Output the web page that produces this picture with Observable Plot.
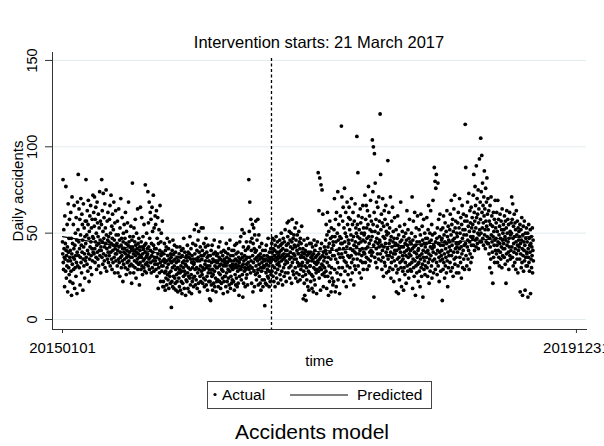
<!DOCTYPE html>
<html><head><meta charset="utf-8">
<script src="https://cdn.jsdelivr.net/npm/d3@7"></script>
<script src="https://cdn.jsdelivr.net/npm/@observablehq/plot@0.6"></script>
<style>
body{margin:0;background:#fff;font-family:Arial,"Liberation Sans",sans-serif;color:#000;}
#wrap{position:relative;width:604px;height:446px;overflow:hidden;background:#fff;}
#title{position:absolute;left:52px;width:534px;top:33px;font-size:16.5px;line-height:19px;text-align:center;}
#chart{position:absolute;left:0;top:0;}
#legend{position:absolute;left:207px;top:381px;}
#caption{position:absolute;left:182px;width:260px;top:419px;font-size:21px;line-height:25px;text-align:center;}
</style>
</head><body>
<div id="wrap">
  <div id="chart"></div>
  <div id="title"></div>
  <div id="legend"></div>
  <div id="caption"></div>
</div>
<script>
// ---- data ----
const titleText = "Intervention starts: 21 March 2017";
const captionText = "Accidents model";
const yLabel = "Daily accidents";
const xLabel = "time";
const legendLabels = ["Actual", "Predicted"];

// daily accident counts, 2015-01-01 .. 2019-12-31 (one row ~ 30 days)
const dailyAccidents = [
45,38,81,33,29,52,41,36,19,60,35,44,28,77,40,24,37,31,55,42,16,34,67,39,30,47,26,58,36,22,
40,34,62,28,47,14,38,71,32,44,21,36,55,29,41,66,35,18,43,30,50,37,25,59,33,46,15,39,68,31,
52,84,37,45,64,30,41,58,20,36,49,70,33,43,27,61,39,55,46,17,35,67,42,31,53,38,24,48,57,34,
44,81,36,57,49,32,63,40,28,55,69,38,47,22,51,35,60,42,30,66,45,37,53,26,41,58,34,48,72,39,
47,62,38,54,71,41,33,58,45,65,36,50,29,43,68,39,56,35,48,61,31,44,53,40,74,37,46,57,27,42,
40,55,81,36,63,45,32,51,73,38,47,59,34,42,67,30,53,44,37,75,49,28,41,57,35,46,62,39,33,48,
45,37,58,42,66,31,50,39,72,44,35,54,29,47,61,40,33,52,43,68,36,46,27,56,41,38,63,34,49,43,
38,44,31,57,40,27,49,35,64,42,33,46,25,53,39,36,70,43,30,47,37,59,34,41,22,45,50,32,39,55,
41,35,47,30,62,38,44,26,51,36,40,33,56,29,43,37,68,34,45,39,31,48,27,42,36,54,32,40,21,46,
36,79,42,31,48,38,27,53,40,34,45,30,58,37,43,24,39,50,33,41,35,64,29,44,38,32,47,36,20,42,
40,33,65,37,29,45,36,59,31,42,26,38,48,34,41,30,55,35,43,28,39,78,32,44,36,27,50,37,33,41,
38,74,31,56,42,35,68,29,47,36,62,40,33,58,27,44,37,65,30,51,39,34,72,43,28,53,36,41,32,60,
34,55,29,41,63,36,25,47,32,59,38,18,44,30,52,35,27,40,66,33,22,45,37,50,31,28,39,57,34,19,
31,22,38,19,35,44,27,33,17,40,28,24,42,34,20,30,47,26,37,23,32,41,18,35,27,45,25,34,21,38,
28,36,7,33,22,40,30,19,46,34,25,38,18,31,43,24,35,21,39,29,17,33,26,42,22,36,30,16,34,27,
34,24,38,19,29,42,27,17,36,31,22,40,28,15,37,33,21,41,30,25,47,34,18,28,39,26,32,14,36,23,
31,37,22,34,43,27,18,39,30,25,36,16,38,24,48,29,20,35,41,26,15,33,37,22,30,44,24,35,19,32,
33,52,25,38,29,20,43,35,23,55,30,40,18,34,27,46,36,21,51,29,39,16,34,25,42,31,22,37,53,28,
35,26,40,21,30,53,37,24,44,29,19,38,32,23,42,34,47,20,30,39,25,36,17,31,43,27,37,22,34,29,
12,31,22,37,11,27,40,20,33,25,43,29,17,35,26,38,21,34,46,28,19,31,39,24,34,16,30,37,22,33,
30,38,23,34,19,42,27,36,31,22,45,26,35,18,32,39,21,29,53,34,24,37,28,15,31,40,22,35,25,33,
34,25,39,19,31,44,27,36,22,33,16,38,29,24,41,34,20,35,28,46,31,18,37,25,34,21,30,40,23,32,
29,37,31,22,40,34,17,30,43,26,35,20,32,38,24,44,30,19,34,28,39,21,31,36,14,33,25,45,29,35,
35,48,29,23,38,31,52,26,36,13,32,42,21,34,50,28,37,30,19,40,29,35,24,45,32,26,36,20,41,30,
33,42,81,29,51,36,68,31,45,27,58,34,40,21,47,30,55,37,16,44,33,53,28,41,19,49,35,39,26,57,
31,40,23,36,46,27,34,58,29,20,37,49,32,25,42,35,21,38,30,17,36,28,44,33,23,30,40,19,35,31,
30,37,23,34,8,31,40,21,35,27,43,32,20,37,29,25,34,47,24,36,31,19,39,28,35,22,33,41,26,34,
36,44,28,39,47,31,25,41,35,22,46,37,30,40,19,43,34,27,48,36,24,39,32,45,29,35,21,42,37,33,
39,31,46,26,36,43,23,40,50,34,28,44,37,20,41,35,47,30,38,25,45,36,32,52,27,40,34,22,43,37,
40,56,33,48,27,44,37,57,30,51,35,24,46,39,42,31,50,36,21,45,58,33,41,28,47,38,26,49,35,43,
37,53,30,42,24,46,35,56,27,40,49,33,22,43,38,31,51,26,45,32,41,23,47,36,29,44,37,54,31,39,
33,25,41,12,36,28,46,21,38,14,31,40,26,35,11,43,30,23,37,33,47,19,39,28,34,17,38,27,44,31,
31,39,22,36,44,26,34,18,37,42,25,35,16,38,30,46,23,33,40,20,29,36,43,27,32,15,37,29,45,34,
33,85,28,38,63,24,35,82,30,41,17,36,78,29,44,32,75,26,37,61,31,19,39,34,27,42,30,36,25,40,
46,28,55,38,18,49,33,62,25,42,36,14,51,31,44,22,57,39,27,47,35,16,53,30,41,24,48,37,20,45,
43,22,52,37,70,29,48,16,58,35,45,19,62,40,27,50,33,74,23,46,38,55,30,41,15,48,36,60,26,44,
47,112,38,71,44,30,57,36,65,41,22,53,34,76,45,28,50,39,62,33,19,48,42,68,31,55,37,26,46,59,
44,65,36,52,30,58,41,23,49,37,70,33,46,27,55,40,62,35,48,20,43,57,31,39,67,45,29,53,38,50,
42,106,35,55,48,85,31,60,44,38,52,27,47,40,64,34,56,45,24,50,37,59,41,33,66,46,29,53,39,49,
50,38,72,45,33,58,41,66,36,53,47,29,63,42,55,35,77,48,31,44,60,39,52,34,69,46,40,57,37,51,
48,104,39,74,55,100,43,13,62,96,36,51,79,45,33,58,41,68,47,30,54,38,65,44,50,35,71,42,57,46,
45,119,38,84,52,34,61,43,29,56,40,70,36,48,25,54,42,63,33,47,58,31,44,66,39,51,27,49,37,55,
41,92,35,50,28,62,44,37,53,30,46,71,39,24,48,33,57,42,36,65,29,45,51,38,22,47,34,59,40,43,
38,44,31,52,16,40,27,47,35,60,43,29,15,49,36,41,23,54,33,45,39,68,30,42,19,46,34,51,37,28,
35,42,17,48,30,39,55,26,44,33,50,37,21,46,40,63,31,43,28,52,36,41,24,47,38,58,32,45,29,40,
37,44,28,50,33,71,41,18,46,35,57,30,42,25,39,62,34,48,14,43,31,53,38,27,45,36,60,32,40,22,
41,33,52,28,45,37,19,49,35,61,30,43,25,38,54,32,46,13,40,36,58,29,44,34,50,26,42,31,47,39,
44,36,59,30,47,25,40,52,33,66,38,21,45,35,50,28,42,63,37,46,31,55,24,41,49,34,69,39,27,43,
42,88,35,50,80,29,45,76,38,84,33,47,26,53,40,79,31,44,58,36,22,48,39,61,34,43,28,52,37,46,
40,47,11,35,53,29,43,60,33,49,38,24,45,56,31,41,36,51,27,44,63,34,48,19,39,54,30,46,37,42,
45,52,33,61,40,28,49,69,37,55,43,30,58,46,25,51,39,64,35,47,72,32,53,41,57,36,44,27,50,42,
48,39,56,31,62,44,27,53,41,70,36,50,45,33,59,42,24,55,38,66,47,30,52,40,61,35,49,43,29,57,
52,113,44,88,37,60,49,31,57,42,68,46,35,54,40,73,29,51,45,63,38,56,48,33,65,43,53,36,59,47,
55,48,72,43,84,51,62,40,57,77,46,66,53,42,89,59,47,70,44,61,50,75,41,56,64,49,93,52,45,68,
58,105,50,74,45,95,62,53,79,47,66,56,43,71,60,86,49,64,52,41,76,57,45,68,54,82,48,61,44,70,
52,44,63,38,57,47,30,66,42,55,35,71,49,27,60,45,39,54,21,48,62,36,51,43,58,33,46,69,40,53,
47,56,38,62,43,51,33,69,45,40,58,36,49,31,54,44,61,39,47,35,57,42,52,30,64,46,37,50,41,55,
44,52,36,60,41,48,32,57,46,21,53,38,63,43,50,34,58,45,39,55,29,47,42,62,37,51,35,49,40,56,
50,71,42,58,36,67,47,31,54,44,39,61,48,33,56,41,52,29,45,63,38,49,35,57,43,27,53,40,46,51,
42,48,35,55,16,44,38,52,30,46,59,33,41,14,49,37,54,28,45,40,57,34,43,17,50,36,47,31,53,39,
38,45,31,50,13,41,36,55,33,47,28,43,39,52,15,44,35,48,30,42,37,53,27,40,46,34
];

// predicted (segmented regression) endpoints, in day index
const predDay = [0, 809, 810, 1825];
const predValue = [48, 27.2, 37.5, 48.2];
const predSegment = ["pre", "pre", "post", "post"];

const interventionDay = [810];          // 21 March 2017
const xTicks = [0, 1992];
const xTickLabels = ["20150101", "20191231"];
const yTicks = [0, 50, 100, 150];

// ---- build ----
const actual = dailyAccidents.map((v, i) => ({t: i, v}));
const predicted = predDay.map((t, i) => ({t, v: predValue[i], seg: predSegment[i]}));

const font = "Arial, 'Liberation Sans', sans-serif";
const chart = Plot.plot({
  width: 604, height: 376,
  marginTop: 52, marginBottom: 47, marginLeft: 52, marginRight: 18,
  style: {fontFamily: font, fontSize: "14px", color: "#000", background: "transparent", overflow: "visible"},
  x: {domain: [-38.8, 2031]},
  y: {domain: [-5.79, 154.6]},
  marks: [
    Plot.gridY(yTicks, {stroke: "#e2ebee", strokeOpacity: 1, strokeWidth: 1}),
    Plot.ruleX(interventionDay, {stroke: "#000", strokeDasharray: "3,2.5", strokeWidth: 1.3, insetTop: 6}),
    Plot.dot(actual, {x: "t", y: "v", r: 1.9, fill: "#000", stroke: "none"}),
    Plot.line(predicted, {x: "t", y: "v", z: "seg", stroke: "#000", strokeWidth: 1.1}),
    Plot.frame({anchor: "left", stroke: "#333"}),
    Plot.frame({anchor: "bottom", stroke: "#333"}),
    Plot.axisX(xTicks, {tickSize: 4, tickPadding: 9, fontSize: 15, label: null, stroke: "#333",
      tickFormat: d => xTickLabels[xTicks.indexOf(d)]}),
    Plot.axisY(yTicks, {tickSize: 7, tickPadding: 9, tickRotate: -90, fontSize: 14.5, label: null, stroke: "#333"}),
    Plot.text([yLabel], {frameAnchor: "left", textAnchor: "middle", rotate: -90, dx: -34, fontSize: 15}),
    Plot.text([xLabel], {frameAnchor: "bottom", dy: 36, fontSize: 15})
  ]
});
document.getElementById("chart").appendChild(chart);
document.getElementById("title").textContent = titleText;
document.getElementById("caption").textContent = captionText;

// legend
const lg = d3.select("#legend").append("svg").attr("width", 226).attr("height", 28)
  .style("font-family", font).style("font-size", "15.5px").style("display", "block");
lg.append("rect").attr("x", 0.5).attr("y", 0.5).attr("width", 224).attr("height", 27)
  .attr("fill", "#fff").attr("stroke", "#444");
lg.append("circle").attr("cx", 8).attr("cy", 13.5).attr("r", 1.6).attr("fill", "#000");
lg.append("text").attr("x", 15).attr("y", 19).text(legendLabels[0]);
lg.append("line").attr("x1", 83).attr("x2", 141).attr("y1", 14).attr("y2", 14).attr("stroke", "#000");
lg.append("text").attr("x", 150).attr("y", 19).text(legendLabels[1]);
</script>
</body></html>
